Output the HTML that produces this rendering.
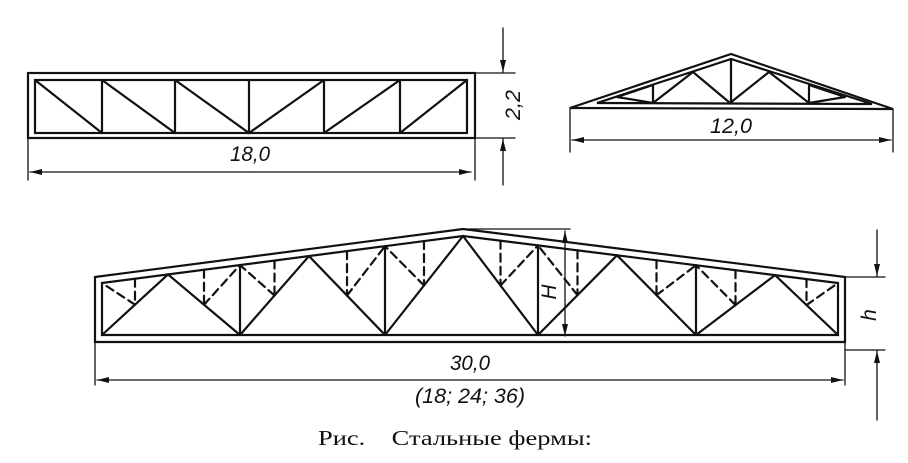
<!DOCTYPE html>
<html><head><meta charset="utf-8"><style>
html,body{margin:0;padding:0;background:#fff;}
svg{display:block;}
.t{font-family:"Liberation Sans Narrow","Liberation Sans",sans-serif;font-style:italic;font-size:21px;fill:#111;stroke:none;}
.c{font-family:"Liberation Serif","Noto Serif CJK SC",serif;font-size:21px;fill:#111;stroke:none;}
</style></head><body>
<svg id="s" width="908" height="463" viewBox="0 0 908 463" xmlns="http://www.w3.org/2000/svg" stroke="#111" fill="none" stroke-linecap="round">
<defs>
<marker id="a" viewBox="0 0 12 6" refX="12" refY="3" markerWidth="12" markerHeight="6" orient="auto" markerUnits="userSpaceOnUse"><path d="M0,0 L12,3 L0,6 Z" fill="#111" stroke="none"/></marker>
</defs>
<!-- top-left truss -->
<g stroke-width="2.2">
<rect x="28" y="73" width="447" height="65"/>
<rect x="35" y="80" width="432" height="53"/>
<path d="M102,80V133 M175,80V133 M249,80V133 M324,80V133 M400,80V133"/>
<path d="M35,80L102,133 M102,80L175,133 M175,80L249,133 L324,80 M324,133L400,80 M400,133L467,80"/>
</g>
<g stroke-width="1.3">
<path d="M28,138V180 M475,138V180 M475,73H515 M475,138H515"/>
<line x1="250" y1="172" x2="30" y2="172" marker-end="url(#a)"/>
<line x1="250" y1="172" x2="471" y2="172" marker-end="url(#a)"/>
<line x1="503" y1="28" x2="503" y2="72" marker-end="url(#a)"/>
<line x1="503" y1="185" x2="503" y2="139" marker-end="url(#a)"/>
</g>
<text class="t" x="250" y="161" text-anchor="middle" textLength="40" lengthAdjust="spacingAndGlyphs">18,0</text>
<text class="t" transform="translate(520,105) rotate(-90)" text-anchor="middle" textLength="30" lengthAdjust="spacingAndGlyphs">2,2</text>
<!-- top-right truss -->
<g stroke-width="2.2">
<path d="M570,108 L731,54 L893,109 Z"/>
<path d="M597,103 L731,59 L872,104 Z"/>
<path d="M653,85V103 M809,85V103 M731,59V103 M693,72L653,103 M693,72L730,103 M769,72L730,103 M769,72L809,103 M653,85L617,97 M653,103 L617,97 M809,85L845,97 M809,103L845,97"/>
</g>
<g stroke-width="1.3">
<path d="M570,108V152 M893,109V152"/>
<line x1="731" y1="140" x2="572" y2="140" marker-end="url(#a)"/>
<line x1="731" y1="140" x2="891" y2="140" marker-end="url(#a)"/>
</g>
<text class="t" x="731" y="133" text-anchor="middle" textLength="42" lengthAdjust="spacingAndGlyphs">12,0</text>
<!-- bottom truss -->
<g id="bt" stroke-width="2.2">
<path d="M95,277 L463,229 L845,277 L845,342 L95,342 Z"/>
<path d="M102,283 L463,236 L838,283 L838,335 L102,335 Z"/>
</g>
<g stroke-width="1.3">
<path d="M463,229H570 M845,277H885 M845,350H885 M95,342V385 M845,342V385"/>
<line x1="470" y1="380" x2="97" y2="380" marker-end="url(#a)"/>
<line x1="470" y1="380" x2="843" y2="380" marker-end="url(#a)"/>
<line x1="565" y1="285" x2="565" y2="231" marker-end="url(#a)"/>
<line x1="565" y1="285" x2="565" y2="336" marker-end="url(#a)"/>
<line x1="877" y1="230" x2="877" y2="276" marker-end="url(#a)"/>
<line x1="877" y1="420" x2="877" y2="351" marker-end="url(#a)"/>
</g>
<text class="t" x="470" y="370" text-anchor="middle" textLength="40" lengthAdjust="spacingAndGlyphs">30,0</text>
<text class="t" x="470" y="403" text-anchor="middle" textLength="110" lengthAdjust="spacingAndGlyphs">(18; 24; 36)</text>
<text class="t" transform="translate(556,292) rotate(-90)" text-anchor="middle">H</text>
<text class="t" transform="translate(876,315) rotate(-90)" text-anchor="middle">h</text>
<text class="c" x="318" y="445" textLength="274" lengthAdjust="spacingAndGlyphs">Рис.&#160;&#160;&#160; Стальные фермы:</text>
</svg>
<script>
(function(){
var g=document.getElementById('bt'),NS="http://www.w3.org/2000/svg";
function top(x){return x<=463?283-(x-102)*47/361:236+(x-463)*47/375;}
var yb=335;
function L(x1,y1,x2,y2,d){var l=document.createElementNS(NS,'line');l.setAttribute('x1',x1);l.setAttribute('y1',y1);l.setAttribute('x2',x2);l.setAttribute('y2',y2);if(d)l.setAttribute('stroke-dasharray','8,5');g.appendChild(l);}
var B=[102,240,385,538,696,838],T=[168,309,463,617,775];
for(var i=0;i<T.length;i++){L(B[i],yb,T[i],top(T[i]));L(T[i],top(T[i]),B[i+1],yb);}
for(var i=1;i<5;i++)L(B[i],yb,B[i],top(B[i]));
for(var i=0;i<T.length;i++){
 [B[i],B[i+1]].forEach(function(v){
  var m=(T[i]+v)/2,ym=(top(T[i])+yb)/2;
  L(m,top(m),m,ym,true);
  L(m,ym,v,top(v),true);
 });
}
})();
</script>
</body></html>
